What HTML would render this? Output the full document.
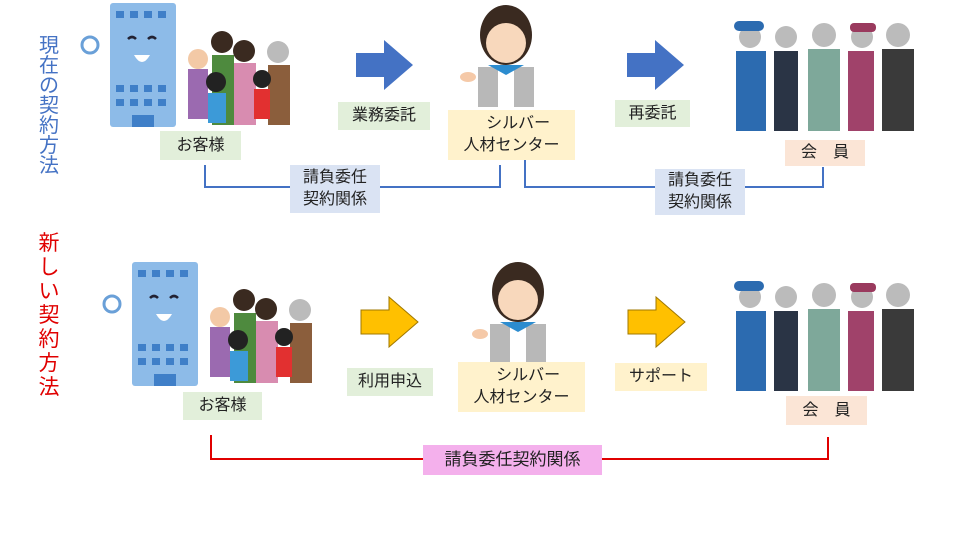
<!DOCTYPE html>
<html><head><meta charset="utf-8"><style>
body{margin:0;width:960px;height:540px;background:#fff;overflow:hidden;font-family:"Liberation Sans","Noto Sans CJK JP",sans-serif}
svg{position:absolute;left:0;top:0}
.l{position:absolute;display:flex;align-items:center;justify-content:center;font-size:16px;color:#222;line-height:22px;text-align:center}
.v{position:absolute;width:24px;font-size:20px;line-height:20px;text-align:center}
</style></head><body>
<svg width="960" height="540">
<defs>
<g id="bld"><rect x="0" y="0" width="66" height="124" rx="3" fill="#8dbbe8"/>
<g fill="#3f7fc8"><rect x="6" y="8" width="8" height="7"/><rect x="20" y="8" width="8" height="7"/><rect x="34" y="8" width="8" height="7"/><rect x="48" y="8" width="8" height="7"/>
<rect x="6" y="82" width="8" height="7"/><rect x="20" y="82" width="8" height="7"/><rect x="34" y="82" width="8" height="7"/><rect x="48" y="82" width="8" height="7"/>
<rect x="6" y="96" width="8" height="7"/><rect x="20" y="96" width="8" height="7"/><rect x="34" y="96" width="8" height="7"/><rect x="48" y="96" width="8" height="7"/>
<rect x="22" y="112" width="22" height="12"/></g>
<path d="M18 36q4-4 8 0M38 36q4-4 8 0" stroke="#223" stroke-width="2.5" fill="none"/>
<path d="M24 52q8 14 16 0z" fill="#fff"/>
<circle cx="-20" cy="42" r="8" fill="none" stroke="#6aa0d8" stroke-width="3"/></g>
<g id="fam">
<circle cx="20" cy="32" r="10" fill="#f3c9a6"/><rect x="10" y="42" width="20" height="50" fill="#9b6ab0"/>
<circle cx="44" cy="15" r="11" fill="#3a2a20"/><rect x="34" y="28" width="22" height="70" fill="#4e8a3e"/>
<circle cx="66" cy="24" r="11" fill="#3a2a20"/><rect x="56" y="36" width="22" height="62" fill="#d88cb0"/>
<circle cx="100" cy="25" r="11" fill="#bbb"/><rect x="90" y="38" width="22" height="60" fill="#8b5e3c"/>
<circle cx="38" cy="55" r="10" fill="#222"/><rect x="30" y="66" width="18" height="30" fill="#3c9ad8"/>
<circle cx="84" cy="52" r="9" fill="#222"/><rect x="76" y="62" width="16" height="30" fill="#e23030"/></g>
<g id="wom"><ellipse cx="48" cy="30" rx="26" ry="30" fill="#3a2a20"/><circle cx="48" cy="38" r="20" fill="#f8d8bc"/>
<rect x="20" y="62" width="56" height="40" fill="#b8b8b8"/><rect x="40" y="62" width="16" height="40" fill="#fff"/><path d="M30 60h36l-18 10z" fill="#2c8ccf"/><ellipse cx="10" cy="72" rx="8" ry="5" fill="#f5c9a8"/></g>
<g id="wrk"><g fill="#bbb"><circle cx="22" cy="22" r="11"/><circle cx="58" cy="22" r="11"/><circle cx="96" cy="20" r="12"/><circle cx="134" cy="22" r="11"/><circle cx="170" cy="20" r="12"/></g>
<rect x="8" y="36" width="30" height="80" fill="#2c6bb0"/><rect x="46" y="36" width="24" height="80" fill="#2a3445"/><rect x="80" y="34" width="32" height="82" fill="#7ea89a"/><rect x="120" y="36" width="26" height="80" fill="#a0426a"/><rect x="154" y="34" width="32" height="82" fill="#3a3a3a"/>
<rect x="6" y="6" width="30" height="10" rx="5" fill="#2c6bb0"/><rect x="122" y="8" width="26" height="9" rx="4" fill="#9a3a5e"/></g>
</defs>
<use href="#bld" x="110" y="3"/><use href="#fam" x="178" y="27"/>
<use href="#bld" x="132" y="262"/><use href="#fam" x="200" y="285"/>
<use href="#wom" x="458" y="5"/><use href="#wom" x="470" y="262"/>
<use href="#wrk" x="728" y="15"/><use href="#wrk" x="728" y="275"/>
<path d="M356 53h28v-13l29 25-29 25v-13h-28z" fill="#4472c4"/>
<path d="M627 53h28v-13l29 25-29 25v-13h-28z" fill="#4472c4"/>
<path d="M361 310h28v-13l29 25-29 25v-13h-28z" fill="#ffc000" stroke="#a07800"/>
<path d="M628 310h28v-13l29 25-29 25v-13h-28z" fill="#ffc000" stroke="#a07800"/>
<path d="M205 165v22h295v-22M525 160v27h298v-20" stroke="#4472c4" stroke-width="2" fill="none"/>
<path d="M211 435v24h617v-22" stroke="#e00000" stroke-width="2" fill="none"/>
</svg>
<div class="v" style="left:37px;top:36px;color:#4472c4">現在の契約方法</div>
<div class="v" style="left:37px;top:232px;color:#e00000;font-size:21px;line-height:24px">新しい契約方法</div>
<div class="l" style="left:160px;top:131px;width:81px;height:29px;background:#e2efda">お客様</div>
<div class="l" style="left:338px;top:102px;width:92px;height:28px;background:#e2efda">業務委託</div>
<div class="l" style="left:448px;top:110px;width:127px;height:50px;background:#fff2cc">&nbsp;&nbsp;&nbsp;シルバー<br>人材センター</div>
<div class="l" style="left:615px;top:100px;width:75px;height:27px;background:#e2efda">再委託</div>
<div class="l" style="left:785px;top:140px;width:80px;height:26px;background:#fbe5d6">会　員</div>
<div class="l" style="left:290px;top:165px;width:90px;height:48px;background:#dae3f3">請負委任<br>契約関係</div>
<div class="l" style="left:655px;top:169px;width:90px;height:46px;background:#dae3f3">請負委任<br>契約関係</div>
<div class="l" style="left:183px;top:392px;width:79px;height:28px;background:#e2efda">お客様</div>
<div class="l" style="left:347px;top:368px;width:86px;height:28px;background:#e2efda">利用申込</div>
<div class="l" style="left:458px;top:362px;width:127px;height:50px;background:#fff2cc">&nbsp;&nbsp;&nbsp;シルバー<br>人材センター</div>
<div class="l" style="left:615px;top:363px;width:92px;height:28px;background:#fff2cc">サポート</div>
<div class="l" style="left:786px;top:396px;width:81px;height:29px;background:#fbe5d6">会　員</div>
<div class="l" style="left:423px;top:445px;width:179px;height:30px;background:#f4b0ec;font-size:17px">請負委任契約関係</div>
</body></html>
